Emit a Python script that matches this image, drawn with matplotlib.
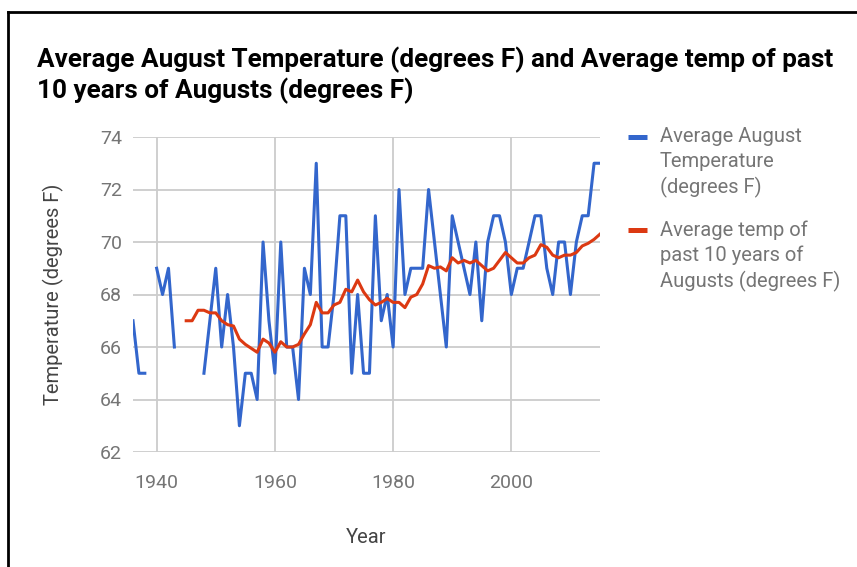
import numpy as np
import matplotlib.pyplot as plt
from matplotlib.lines import Line2D

# Data
years = list(range(1936, 2016))

avg_august = [
    67, 65, 65, np.nan, 69, 68, 69, 66, np.nan, np.nan,   # 1936-1945
    np.nan, np.nan, 65, 67, 69, 66, 68, 66, 63, 65,       # 1946-1955
    65, 64, 70, 67, 65, 70, 66, 66, 64, 69,               # 1956-1965
    68, 73, 66, 66, 68, 71, 71, 65, 68, 65,               # 1966-1975
    65, 71, 67, 68, 66, 72, 68, 69, 69, 69,               # 1976-1985
    72, 70, 68, 66, 71, 70, 69, 68, 70, 67,               # 1986-1995
    70, 71, 71, 70, 68, 69, 69, 70, 71, 71,               # 1996-2005
    69, 68, 70, 70, 68, 70, 71, 71, 73, 73,               # 2006-2015
]

avg_past10 = [
    np.nan, np.nan, np.nan, np.nan, np.nan, np.nan, np.nan, np.nan, np.nan, 67.0,  # 1936-1945
    67.0, 67.4, 67.4, 67.3, 67.3, 67.0, 66.85, 66.8, 66.3, 66.1,                  # 1946-1955
    65.95, 65.8, 66.3, 66.15, 65.8, 66.2, 66.0, 66.0, 66.1, 66.5,                 # 1956-1965
    66.85, 67.7, 67.3, 67.3, 67.6, 67.7, 68.2, 68.1, 68.55, 68.1,                 # 1966-1975
    67.8, 67.6, 67.7, 67.85, 67.7, 67.7, 67.5, 67.9, 68.0, 68.4,                  # 1976-1985
    69.1, 69.0, 69.05, 68.9, 69.4, 69.2, 69.3, 69.2, 69.3, 69.1,                  # 1986-1995
    68.9, 69.0, 69.3, 69.6, 69.4, 69.2, 69.2, 69.4, 69.5, 69.9,                   # 1996-2005
    69.8, 69.5, 69.4, 69.5, 69.5, 69.6, 69.85, 69.95, 70.1, 70.3,                 # 2006-2015
]

series_names = [
    "Average August\nTemperature\n(degrees F)",
    "Average temp of\npast 10 years of\nAugusts (degrees F)",
]
colors = ["#3366cc", "#dc3912"]
x_ticks = [1940, 1960, 1980, 2000]
y_ticks = [62, 64, 66, 68, 70, 72, 74]

plt.rcParams['font.family'] = ['Roboto', 'DejaVu Sans']

W, H = 857, 567
fig = plt.figure(figsize=(W / 100, H / 100), dpi=100)
ax = fig.add_axes([133 / W, 1 - 452 / H, (600 - 133) / W, (452 - 137) / H])

ax.plot(years, avg_august, color=colors[0], lw=2.2)
ax.plot(years, avg_past10, color=colors[1], lw=2.2)

ax.set_xlim(1936, 2015)
ax.set_ylim(62, 74)
ax.set_xticks(x_ticks)
ax.set_yticks(y_ticks)
ax.grid(True, color="#cccccc", lw=1.3)
ax.set_axisbelow(True)
for s in ax.spines.values():
    s.set_visible(False)
ax.tick_params(length=0, labelsize=14, labelcolor="#757575")
ax.tick_params(axis='x', pad=16)
ax.tick_params(axis='y', pad=8)

ax.set_xlabel("Year", fontsize=14.5, color="#444444", labelpad=26)
ax.set_ylabel("Temperature (degrees F)", fontsize=14.5, color="#444444", labelpad=26)

fig.text(37 / W, 1 - 47 / H,
         "Average August Temperature (degrees F) and Average temp of past\n10 years of Augusts (degrees F)",
         fontsize=18.8, fontweight='bold', color="#000000", va='top', ha='left',
         linespacing=1.2)

# legend, drawn by hand to match the wrapped Google-chart style
entry_ys = [137, 230]
for name, c, y in zip(series_names, colors, entry_ys):
    fig.add_artist(Line2D([628 / W, 647 / W], [1 - y / H] * 2,
                          color=c, lw=3.6, solid_capstyle='butt'))
    fig.text(660 / W, 1 - (y - 10) / H, name, fontsize=14.5, color="#757575",
             va='top', ha='left', linespacing=1.38)

# frame lines on top and left
fig.add_artist(Line2D([8 / W, 1], [1 - 12 / H] * 2, color="black", lw=2))
fig.add_artist(Line2D([8 / W, 8 / W], [0, 1 - 12 / H], color="black", lw=2))

fig.savefig("out.png", dpi=100)
